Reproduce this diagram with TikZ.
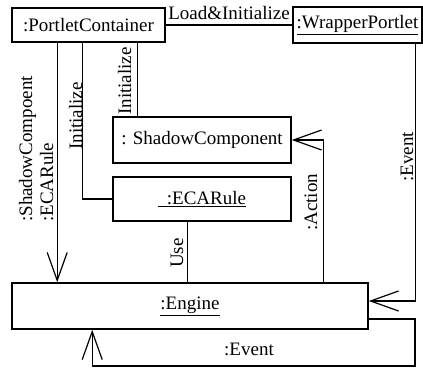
\documentclass[tikz,border=0pt]{standalone}
\usepackage{fontspec}
\setmainfont{Liberation Serif}
\usetikzlibrary{arrows.meta}
\begin{document}
\begin{tikzpicture}[x=1pt,y=-1pt,
  txt/.style={font=\fontsize{19}{22}\selectfont},
  box/.style={draw, line width=1.6pt, inner sep=0pt, txt},
  conn/.style={line width=1.2pt},
  arr/.style={conn, -{Straight Barb[length=28pt,width=20pt,line width=1.2pt]}},
  lbl/.style={txt, inner sep=0pt},
  vlbl/.style={lbl, rotate=90, anchor=base west}]
\useasboundingbox (0,0) rectangle (423,367);
% boxes
\node[box, minimum width=153pt, minimum height=34pt] (pc) at (88.5,25) {:PortletContainer};
\node[box, minimum width=129pt, minimum height=36pt] (wp) at (357.5,25) {\underline{:WrapperPortlet}};
\node[box, minimum width=178pt, minimum height=46pt] (sc) at (202,140) {: ShadowComponent};
\node[box, minimum width=178pt, minimum height=44pt] (ecar) at (202,199) {\underline{\hspace{9pt}:ECARule}};
\node[box, minimum width=356pt, minimum height=46pt] (eng) at (190,306) {\underline{:Engine}};
% coordinates
\coordinate (lr) at (415,366);
% connectors
\draw[conn] (pc.east) -- (wp.west);
\draw[arr] ([xshift=46pt]pc.south west) -- ([xshift=46pt]pc.south west |- eng.north);
\draw[conn] ([xshift=71pt]pc.south west) |- (ecar.west);
\draw[conn] ([xshift=126pt]pc.south west) -- ([xshift=126pt]pc.south west |- sc.north);
\draw[conn] ([xshift=75pt]ecar.south west) -- ([xshift=75pt]ecar.south west |- eng.north);
\draw[arr] ([xshift=-45pt]eng.north east) |- (sc.east);
\draw[arr] ([xshift=-7pt]wp.south east) |- ([yshift=5pt]eng.east);
\draw[arr] ([yshift=-13pt]eng.east) -| (lr) -| ([xshift=81pt]eng.south west);
% labels
\node[lbl, anchor=base] (l1) at (229,19) {Load\&Initialize};
\node[vlbl] (l2) at (32,222) {:ShadowCompoent};
\node[vlbl] (l3) at (53,222) {:ECARule};
\node[vlbl] (l4) at (82,150) {Initialize};
\node[vlbl] (l5) at (131,115) {Initialize};
\node[vlbl] (l6) at (183,268) {Use};
\node[vlbl] (l7) at (317,231) {:Action};
\node[vlbl] (l8) at (413,182) {:Event};
\node[lbl, anchor=base] (l9) at (249,355) {:Event};
\end{tikzpicture}
\end{document}
